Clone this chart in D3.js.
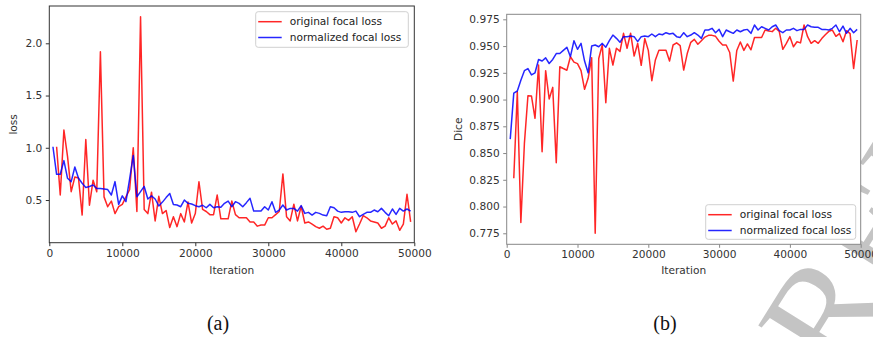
<!DOCTYPE html>
<html>
<head>
<meta charset="utf-8">
<script src="https://cdn.jsdelivr.net/npm/d3@7"></script>
<style>
  body { margin: 0; background: #fff; }
  text { font-family: "DejaVu Sans", sans-serif; }
</style>
</head>
<body>
<div id="chart"></div>
<script>
// iterations: blue every 500 from 500, red every 500 from 1000
const blueIters = d3.range(500, 50000, 500);
const redIters = d3.range(1000, 50000, 500);
const xTicks = [0, 10000, 20000, 30000, 40000, 50000];
const lossTicks = [0.5, 1.0, 1.5, 2.0];
const diceTicks = [0.775, 0.8, 0.825, 0.85, 0.875, 0.9, 0.925, 0.95, 0.975];
const seriesNames = ['original focal loss', 'normalized focal loss'];

const lossRed = [
  1.01, 0.548, 1.17, 0.915, 0.58, 0.72, 0.71, 0.356, 1.08,
  0.45, 0.69, 0.58, 1.92, 0.53, 0.436, 0.49, 0.37, 0.436, 0.458,
  0.53, 0.6, 1.0, 0.39, 2.255, 0.41, 0.37, 0.575, 0.3, 0.535,
  0.37, 0.4, 0.236, 0.34, 0.245, 0.37, 0.29, 0.48, 0.28, 0.37,
  0.675, 0.41, 0.39, 0.36, 0.36, 0.548, 0.32, 0.32, 0.32, 0.49,
  0.36, 0.33, 0.33, 0.33, 0.29, 0.29, 0.25, 0.26, 0.26, 0.33,
  0.33, 0.36, 0.39, 0.75, 0.34, 0.3, 0.46, 0.3, 0.44, 0.28,
  0.29, 0.27, 0.245, 0.23, 0.25, 0.22, 0.23, 0.34, 0.33, 0.28,
  0.33, 0.305, 0.34, 0.196, 0.27, 0.35, 0.33, 0.3, 0.29, 0.28,
  0.23, 0.25, 0.33, 0.27, 0.3, 0.21, 0.27, 0.555, 0.29
];
const lossBlue = [
  1.01, 0.746, 0.746, 0.877, 0.708, 0.676, 0.816, 0.708, 0.66, 0.62,
  0.63, 0.644, 0.61, 0.61, 0.605, 0.60, 0.548, 0.676, 0.458, 0.54,
  0.484, 0.70, 0.925, 0.531, 0.58, 0.63, 0.51, 0.54, 0.51, 0.443,
  0.48, 0.523, 0.563, 0.458, 0.452, 0.436, 0.50, 0.468, 0.462, 0.446,
  0.436, 0.45, 0.426, 0.458, 0.426, 0.436, 0.43, 0.468, 0.49, 0.436,
  0.484, 0.468, 0.436, 0.475, 0.516, 0.394, 0.394, 0.394, 0.436, 0.404,
  0.484, 0.382, 0.404, 0.452, 0.404, 0.42, 0.42, 0.394, 0.446, 0.372,
  0.382, 0.356, 0.382, 0.372, 0.356, 0.35, 0.436, 0.426, 0.394, 0.382,
  0.388, 0.388, 0.382, 0.394, 0.34, 0.362, 0.382, 0.382, 0.404, 0.388,
  0.42, 0.382, 0.35, 0.414, 0.362, 0.42, 0.394, 0.414, 0.394
];
const diceRed = [
  0.8264, 0.9073, 0.785, 0.859, 0.9036, 0.9033, 0.8825, 0.9323, 0.8513,
  0.927, 0.9005, 0.9114, 0.841, 0.9307, 0.929, 0.9274, 0.94, 0.935, 0.9336,
  0.927, 0.9096, 0.9199, 0.939, 0.775, 0.9384, 0.951, 0.897, 0.9479, 0.9323,
  0.948, 0.945, 0.9619, 0.948, 0.962, 0.9407, 0.9525, 0.932, 0.957, 0.946,
  0.9176, 0.937, 0.946, 0.946, 0.946, 0.936, 0.951, 0.953, 0.9505, 0.9276,
  0.943, 0.9535, 0.9563, 0.9517, 0.955, 0.9584, 0.960, 0.960, 0.9591, 0.9545,
  0.951, 0.951, 0.944, 0.9173, 0.9459, 0.9538, 0.946, 0.952, 0.9465, 0.958,
  0.958, 0.958, 0.965, 0.964, 0.9635, 0.9666, 0.9636, 0.947, 0.9526, 0.9588,
  0.9494, 0.954, 0.953, 0.9697, 0.9588, 0.9526, 0.955, 0.9526, 0.957, 0.9606,
  0.9637, 0.965, 0.9591, 0.9617, 0.954, 0.9644, 0.9617, 0.929, 0.9557
];
const diceBlue = [
  0.863, 0.906, 0.908, 0.918, 0.927, 0.929, 0.923, 0.925, 0.9375, 0.936,
  0.939, 0.9337, 0.9375, 0.943, 0.943, 0.946, 0.9488, 0.9401, 0.955, 0.947,
  0.9525, 0.936, 0.925, 0.950, 0.951, 0.9494, 0.9525, 0.949, 0.955, 0.9603,
  0.9572, 0.9535, 0.9588, 0.9588, 0.9594, 0.9588, 0.9541, 0.9588, 0.9594, 0.9588,
  0.9613, 0.9588, 0.9613, 0.9606, 0.9625, 0.9613, 0.9619, 0.9588, 0.9581, 0.9625,
  0.9588, 0.9603, 0.9625, 0.9603, 0.9572, 0.965, 0.965, 0.9666, 0.9625, 0.9656,
  0.9588, 0.965, 0.9634, 0.9619, 0.965, 0.9634, 0.965, 0.9656, 0.9619, 0.9697,
  0.965, 0.9681, 0.9666, 0.965, 0.9681, 0.9697, 0.9644, 0.9625, 0.965, 0.965,
  0.9666, 0.9644, 0.9656, 0.9656, 0.9697, 0.9681, 0.9675, 0.9675, 0.9656, 0.9656,
  0.965, 0.9666, 0.9697, 0.9634, 0.9687, 0.9619, 0.9666, 0.9625, 0.9656
];

const W = 873, H = 337;
const FS = 10.6;
const svg = d3.select('#chart').append('svg')
  .attr('width', W).attr('height', H);

// watermark sits behind the charts
svg.append('text')
  .attr('transform', 'translate(795,452) rotate(-58)')
  .style('font-family', '"Liberation Serif", serif')
  .style('font-size', '150px')
  .style('fill', '#c4c4c4')
  .text('PREPRINT');

function panel(opt) {
  const x = d3.scaleLinear().domain([0, 50000]).range([opt.left, opt.right]);
  const y = d3.scaleLinear().domain(opt.yDomain).range([opt.bottom, opt.top]);
  const g = svg.append('g');

  g.append('rect')
    .attr('x', opt.left).attr('y', opt.top)
    .attr('width', opt.right - opt.left).attr('height', opt.bottom - opt.top)
    .attr('fill', '#fff');

  const line = d3.line().x(d => x(d[0])).y(d => y(d[1]));
  const series = [
    {iters: redIters, vals: opt.red, color: '#ff0000'},
    {iters: blueIters, vals: opt.blue, color: '#0000ff'}
  ];
  series.forEach(s => {
    g.append('path')
      .datum(s.iters.map((it, i) => [it, s.vals[i]]))
      .attr('fill', 'none')
      .attr('stroke', s.color)
      .attr('stroke-opacity', 0.85)
      .attr('stroke-width', 1.5)
      .attr('stroke-linejoin', 'round')
      .attr('d', line);
  });

  const xAxis = g.append('g')
    .attr('transform', 'translate(0,' + opt.bottom + ')')
    .call(d3.axisBottom(x).tickValues(xTicks).tickFormat(d3.format('d'))
      .tickSize(3.5).tickPadding(3));
  const yAxis = g.append('g')
    .attr('transform', 'translate(' + opt.left + ',0)')
    .call(d3.axisLeft(y).tickValues(opt.yTicks).tickFormat(d3.format(opt.yFormat))
      .tickSize(3.5).tickPadding(3.5));
  [xAxis, yAxis].forEach(a => {
    a.select('.domain').remove();
    a.selectAll('.tick line').attr('stroke', opt.frame);
    a.selectAll('.tick text')
      .style('font-family', '"DejaVu Sans", sans-serif')
      .style('font-size', FS + 'px')
      .attr('fill', '#333');
  });

  g.append('rect')
    .attr('x', opt.left).attr('y', opt.top)
    .attr('width', opt.right - opt.left).attr('height', opt.bottom - opt.top)
    .attr('fill', 'none').attr('stroke', opt.frame).attr('stroke-width', 1);

  g.append('text')
    .attr('x', (opt.left + opt.right) / 2).attr('y', 274)
    .attr('text-anchor', 'middle')
    .style('font-size', FS + 'px').attr('fill', '#333')
    .text('Iteration');
  g.append('text')
    .attr('transform', 'translate(' + opt.yLabelX + ',' + (opt.top + opt.bottom) / 2 + ') rotate(-90)')
    .attr('text-anchor', 'middle').attr('dy', '0.35em')
    .style('font-size', FS + 'px').attr('fill', '#333')
    .text(opt.yLabel);

  // legend
  const lg = g.append('g');
  lg.append('rect')
    .attr('x', opt.legend[0]).attr('y', opt.legend[1])
    .attr('width', opt.legend[2]).attr('height', opt.legend[3])
    .attr('rx', 2.5)
    .attr('fill', '#fff').attr('fill-opacity', 0.8)
    .attr('stroke', '#d0d0d0').attr('stroke-width', 1);
  series.forEach((s, i) => {
    const ly = opt.legend[1] + 10 + i * 15.8;
    lg.append('line')
      .attr('x1', opt.legend[0] + 2.5).attr('x2', opt.legend[0] + 26)
      .attr('y1', ly).attr('y2', ly)
      .attr('stroke', s.color).attr('stroke-opacity', 0.85).attr('stroke-width', 1.5);
    lg.append('text')
      .attr('x', opt.legend[0] + 34).attr('y', ly).attr('dy', '0.35em')
      .style('font-size', FS + 'px').attr('fill', '#222')
      .text(seriesNames[i]);
  });

  svg.append('text')
    .attr('x', opt.captionX).attr('y', 330)
    .attr('text-anchor', 'middle')
    .style('font-family', '"Liberation Serif", serif')
    .style('font-size', '20px').attr('fill', '#111')
    .text(opt.caption);
}

panel({
  left: 49.3, right: 414.3, top: 6, bottom: 242.7,
  yDomain: [0.0915, 2.357], yTicks: lossTicks, yFormat: '.1f',
  red: lossRed, blue: lossBlue, frame: '#333',
  yLabel: 'loss', yLabelX: 13,
  legend: [255.7, 11.7, 152.6, 35.6],
  caption: '(a)', captionX: 218
});

panel({
  left: 506.7, right: 860.7, top: 14.3, bottom: 244.3,
  yDomain: [0.7647, 0.9797], yTicks: diceTicks, yFormat: '.3f',
  red: diceRed, blue: diceBlue, frame: '#888',
  yLabel: 'Dice', yLabelX: 458.5,
  legend: [705.7, 204.7, 150, 34.6],
  caption: '(b)', captionX: 665
});
</script>
</body>
</html>
